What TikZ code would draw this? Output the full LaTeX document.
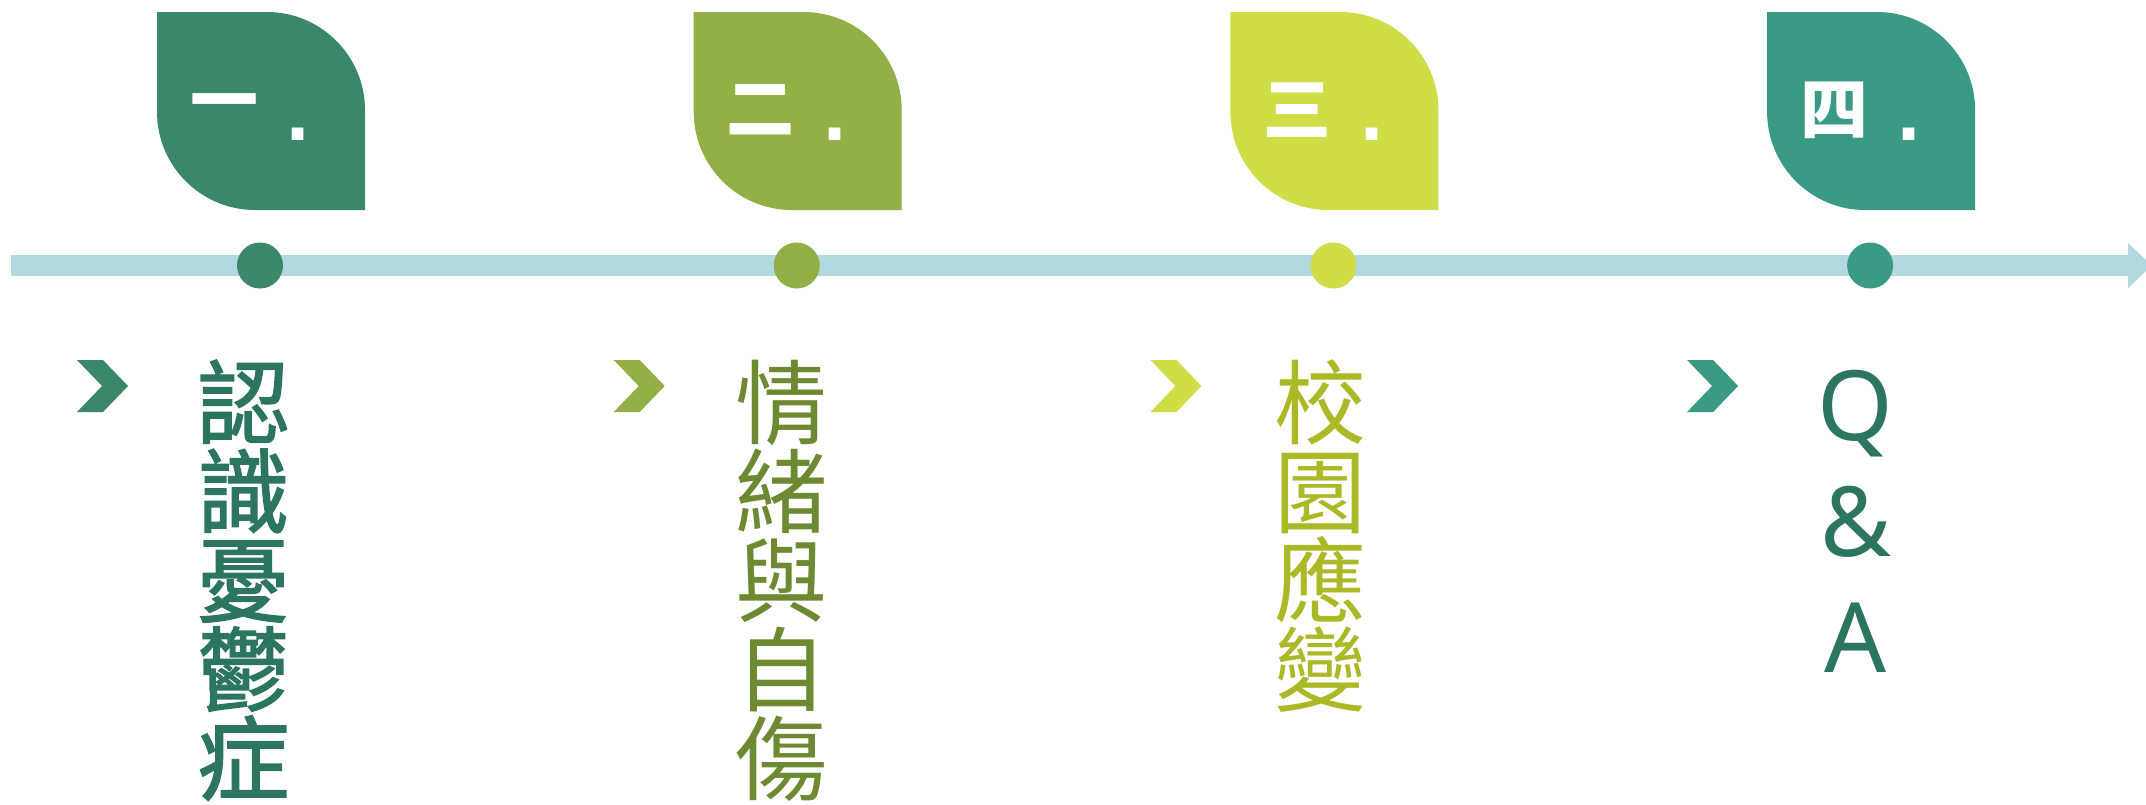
\documentclass[tikz,border=0pt]{standalone}
\usepackage{fontspec}
\newfontfamily\cjk{Noto Sans CJK TC}
\newfontfamily\cjkheavy[FakeBold=1.6]{Noto Sans CJK TC}
\newfontfamily\dotfont{DejaVu Sans}
\newfontfamily\latinfont{Noto Sans}
\definecolor{leafA}{HTML}{3B8769}
\definecolor{leafB}{HTML}{92B045}
\definecolor{leafC}{HTML}{CFDE47}
\definecolor{leafD}{HTML}{3A9A84}
\definecolor{textA}{HTML}{2C7560}
\definecolor{textB}{HTML}{6D8A33}
\definecolor{textC}{HTML}{AAB925}
\definecolor{barc}{HTML}{B3D9E0}
\tikzset{
  numtext/.style={font=\cjk\bfseries\fontsize{68}{68}\selectfont, text=white, inner sep=0pt},
  dottext/.style={font=\dotfont\bfseries\fontsize{66}{66}\selectfont, text=white, inner sep=0pt},
  colchar/.style={font=\cjk\fontsize{92}{92}\selectfont, inner sep=0pt, anchor=base},
  qachar/.style={font=\latinfont\fontsize{97}{97}\selectfont, inner sep=0pt, anchor=base, text=textA},
  dotmark/.style={circle, inner sep=0pt, minimum size=46pt}
}
\begin{document}
\begin{tikzpicture}[x=1pt,y=-1pt]
\useasboundingbox (0,0) rectangle (2146,804);
\clip (0,0) rectangle (2146,804);
\fill[white] (0,0) rectangle (2146,804);

% timeline bar
\coordinate (barL) at (11,265.5);
\coordinate (barR) at (2128,265.5);
\draw[barc, line width=20.5pt] (barL) -- (barR);
\fill[barc] (2128,243) -- (2152,265.5) -- (2128,288) -- cycle;

\foreach \i/\col/\num in {0/leafA/一,1/leafB/二,2/leafC/三,3/leafD/四} {
  \pgfmathsetmacro\L{157+536.7*\i}
  % leaf
  \fill[\col] (\L,12) -- (\L+110,12) .. controls (\L+164,12) and (\L+208,56) .. (\L+208,110)
    -- (\L+208,210) -- (\L+98,210) .. controls (\L+44,210) and (\L,166) .. (\L,112) -- cycle;
  \node[numtext] (n\i) at (\L+67,110) {\num};
  \node[dottext] (p\i) at (\L+141.5,134.5) {.};
  % circle on timeline
  \node[dotmark, fill=\col] (c\i) at (\L+103,265.5) {};
  % chevron
  \fill[\col] (\L-80,360) -- (\L-54,360) -- (\L-29,386) -- (\L-54,412) -- (\L-80,412) -- (\L-55,386) -- cycle;
}

% column texts
\foreach \ch [count=\k from 0] in {認,識,憂,鬱,症}
  \node[colchar, text=textA, font=\cjkheavy\fontsize{92}{92}\selectfont] (a\k) at (243.5,437+89*\k) {\ch};
\foreach \ch [count=\k from 0] in {情,緒,與,自,傷}
  \node[colchar, text=textB] (b\k) at (781.5,437+89*\k) {\ch};
\foreach \ch [count=\k from 0] in {校,園,應,變}
  \node[colchar, text=textC] (c\k) at (1320,437+89*\k) {\ch};
\node[qachar] (q0) at (1855.5,440) {Q};
\node[qachar] (q1) at (1855.5,556) {\&};
\node[qachar] (q2) at (1855.5,672) {A};
\end{tikzpicture}
\end{document}
